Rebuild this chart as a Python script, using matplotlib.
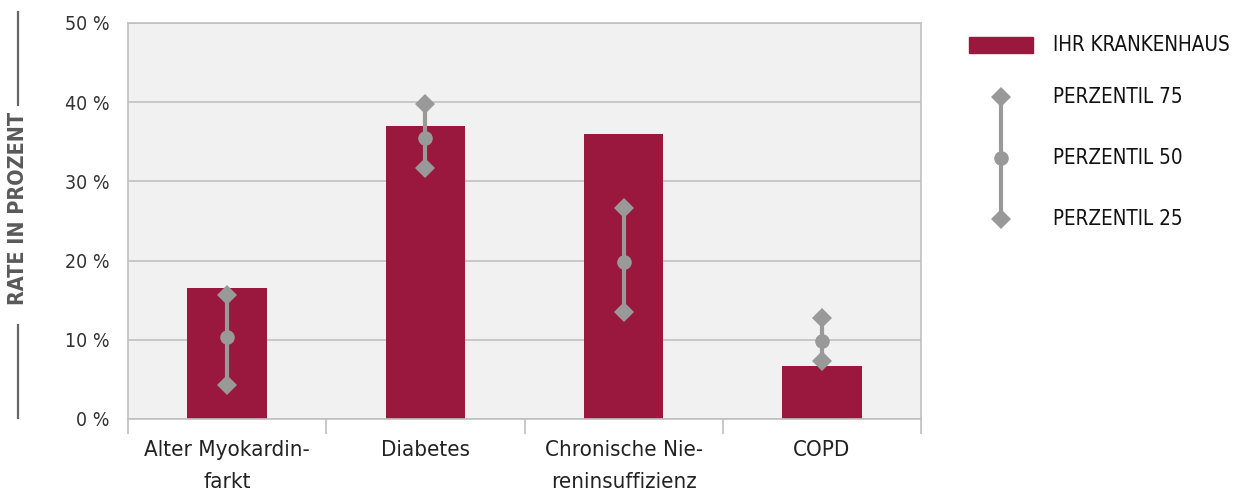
import matplotlib
matplotlib.use("Agg")
import matplotlib.pyplot as plt
from matplotlib.lines import Line2D
from matplotlib.patches import Rectangle
import numpy as np

categories = ["Alter Myokardin-\nfarkt", "Diabetes", "Chronische Nie-\nreninsuffizienz", "COPD"]
hospital = [16.5, 37.0, 36.0, 6.7]
p75 = [15.6, 39.8, 26.6, 12.8]
p50 = [10.4, 35.5, 19.8, 9.8]
p25 = [4.3, 31.7, 13.5, 7.3]
yticks = [0, 10, 20, 30, 40, 50]
ytick_labels = ["0 %", "10 %", "20 %", "30 %", "40 %", "50 %"]
legend_labels = ["IHR KRANKENHAUS", "PERZENTIL 75", "PERZENTIL 50", "PERZENTIL 25"]

BAR = "#9a173d"
GREY = "#999999"
plt.rcParams['font.family'] = ['DejaVu Sans']
plt.rcParams['font.stretch'] = 'condensed'

fig = plt.figure(figsize=(12.39, 5.0), dpi=100)
ax = fig.add_axes([128/1239, 1-419/500, (921-128)/1239, (419-23)/500])
ax.set_facecolor("#f1f1f1")

x = np.arange(len(categories))
ax.bar(x, hospital, width=0.4, color=BAR, zorder=2)
for xi, a, b, c in zip(x, p75, p50, p25):
    ax.plot([xi, xi], [c, a], color=GREY, lw=3, zorder=3, solid_capstyle='butt')
ax.plot(x, p75, 'D', color=GREY, ms=10.5, zorder=4, markeredgewidth=0)
ax.plot(x, p50, 'o', color=GREY, ms=10.5, zorder=4, markeredgewidth=0)
ax.plot(x, p25, 'D', color=GREY, ms=10.5, zorder=4, markeredgewidth=0)

ax.set_xlim(-0.5, len(categories) - 0.5)
ax.set_ylim(0, 50)
ax.set_yticks(yticks)
ax.set_yticklabels(ytick_labels, fontsize=14, color="#333333")
ax.tick_params(axis='y', length=0, pad=13)
ax.set_xticks(x)
ax.set_xticklabels(categories, fontsize=16, color="#222222", linespacing=1.75)
ax.tick_params(axis='x', which='major', length=0, pad=15)
ax.set_xticks(np.arange(-0.5, len(categories)), minor=True)
ax.tick_params(axis='x', which='minor', length=11, width=1.2, color="#bfbfbf")
ax.yaxis.grid(True, color="#c0c0c0", lw=1.2, zorder=1)
ax.set_axisbelow(True)
for s in ax.spines.values():
    s.set_color("#c0c0c0")
    s.set_linewidth(1.2)

# y label with side rules
fig.text(18/1239, 1-208/500, "RATE IN PROZENT", rotation=90, ha='center', va='center',
         fontsize=15.5, color="#595959", fontweight='bold')
fig.add_artist(Line2D([18/1239, 18/1239], [1-12/500, 1-105/500], color="#666666", lw=1.6))
fig.add_artist(Line2D([18/1239, 18/1239], [1-325/500, 1-418/500], color="#666666", lw=1.6))

# legend
W, H = 1239, 500
fig.add_artist(Rectangle((969/W, 1-53/H), 64/W, 16/H, color=BAR, transform=fig.transFigure))
fig.text(1053/W, 1-45/H, legend_labels[0], fontsize=14.8, va='center', ha='left', color="#111111")
lx = 1001/W
ys = [97, 158, 219]
fig.add_artist(Line2D([lx, lx], [1-ys[0]/H, 1-ys[2]/H], color=GREY, lw=3))
fig.add_artist(Line2D([lx], [1-ys[0]/H], marker='D', ms=10.5, color=GREY, mew=0, ls='none'))
fig.add_artist(Line2D([lx], [1-ys[1]/H], marker='o', ms=10.5, color=GREY, mew=0, ls='none'))
fig.add_artist(Line2D([lx], [1-ys[2]/H], marker='D', ms=10.5, color=GREY, mew=0, ls='none'))
for lab, yy in zip(legend_labels[1:], ys):
    fig.text(1053/W, 1-yy/H, lab, fontsize=14.8, va='center', ha='left', color="#111111")

fig.savefig("out.png", dpi=100)
